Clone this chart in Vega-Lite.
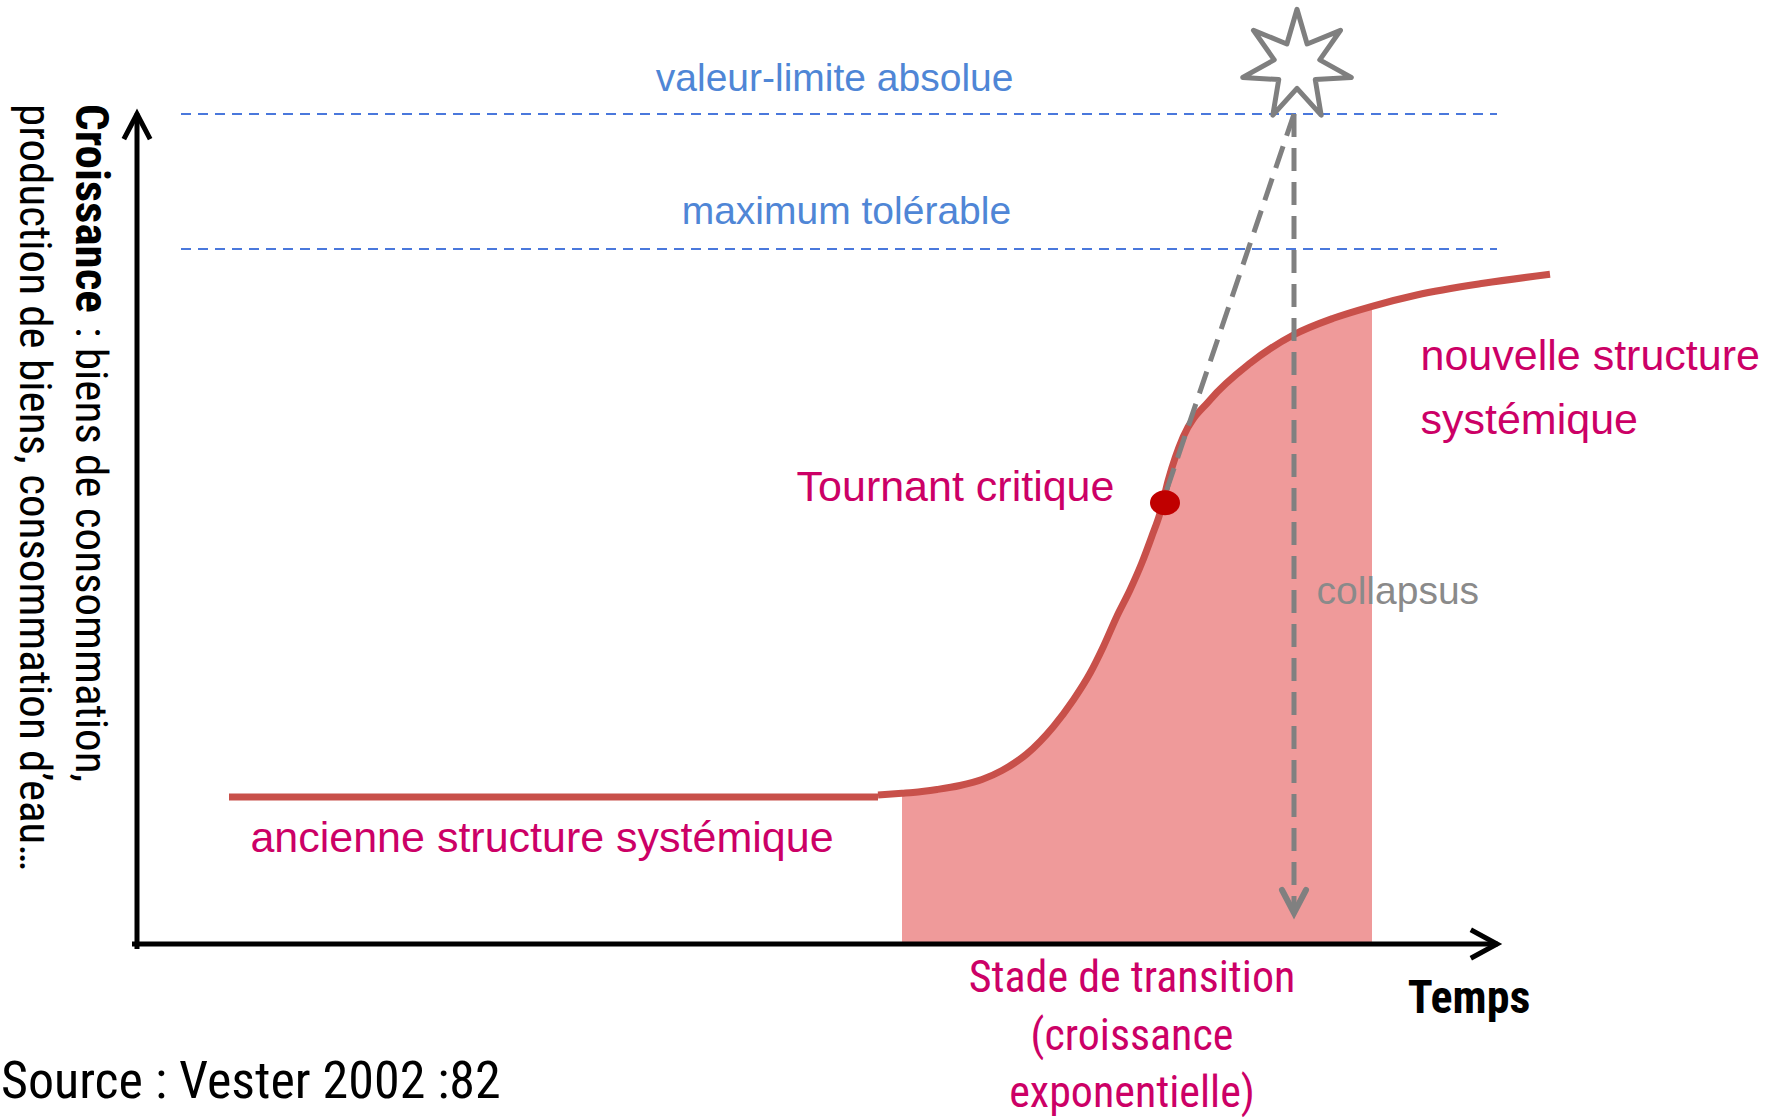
{
  "$schema": "https://vega.github.io/schema/vega-lite/v6.json",
  "width": 1772,
  "height": 1118,
  "autosize": {"type": "none"},
  "padding": 0,
  "background": "white",
  "config": {"view": {"stroke": null}},
  "datasets": {
    "curve": [
      {"id": "flat", "x": 9.2, "y": 14.7},
      {"id": "flat", "x": 74.1, "y": 14.7},
      {"id": "rise", "x": 74.1, "y": 14.9},
      {"id": "rise", "x": 76.5, "y": 15.07},
      {"id": "rise", "x": 77.6, "y": 15.15},
      {"id": "rise", "x": 80.0, "y": 15.45},
      {"id": "rise", "x": 82.3, "y": 15.85},
      {"id": "rise", "x": 84.5, "y": 16.45},
      {"id": "rise", "x": 86.5, "y": 17.35},
      {"id": "rise", "x": 88.97, "y": 19.0},
      {"id": "rise", "x": 91.63, "y": 21.73},
      {"id": "rise", "x": 93.63, "y": 24.4},
      {"id": "rise", "x": 95.3, "y": 27.07},
      {"id": "rise", "x": 96.63, "y": 29.73},
      {"id": "rise", "x": 97.97, "y": 32.73},
      {"id": "rise", "x": 99.3, "y": 35.4},
      {"id": "rise", "x": 100.47, "y": 38.07},
      {"id": "rise", "x": 101.47, "y": 40.73},
      {"id": "rise", "x": 102.3, "y": 43.07},
      {"id": "rise", "x": 103.13, "y": 46.4},
      {"id": "rise", "x": 104.63, "y": 50.73},
      {"id": "rise", "x": 107.3, "y": 54.4},
      {"id": "rise", "x": 111.3, "y": 58.07},
      {"id": "rise", "x": 115.63, "y": 60.9},
      {"id": "rise", "x": 119.63, "y": 62.57},
      {"id": "rise", "x": 123.5, "y": 63.77},
      {"id": "rise", "x": 127.97, "y": 64.9},
      {"id": "rise", "x": 134.63, "y": 66.07},
      {"id": "rise", "x": 141.3, "y": 66.97}
    ],
    "axes": [
      {"id": "yax", "o": 0, "x": 0, "y": -0.25},
      {"id": "yax", "o": 1, "x": 0, "y": 82.8},
      {"id": "yar", "o": 0, "x": -1.2, "y": 80.7},
      {"id": "yar", "o": 1, "x": 0, "y": 83.0},
      {"id": "yar", "o": 2, "x": 1.2, "y": 80.7},
      {"id": "xax", "o": 0, "x": -0.25, "y": 0},
      {"id": "xax", "o": 1, "x": 135.8, "y": 0},
      {"id": "xar", "o": 0, "x": 133.6, "y": 1.3},
      {"id": "xar", "o": 1, "x": 136.0, "y": 0},
      {"id": "xar", "o": 2, "x": 133.6, "y": -1.3}
    ],
    "limits": [
      {"id": "absolue", "o": 0, "x": 4.4, "y": 83.0},
      {"id": "absolue", "o": 1, "x": 136.0, "y": 83.0},
      {"id": "tolerable", "o": 0, "x": 4.4, "y": 69.5},
      {"id": "tolerable", "o": 1, "x": 136.0, "y": 69.5}
    ],
    "grayDash": [
      {"id": "vert", "o": 0, "x": 115.7, "y": 83.0},
      {"id": "vert", "o": 1, "x": 115.7, "y": 3.4},
      {"id": "diag", "o": 0, "x": 115.7, "y": 83.0},
      {"id": "diag", "o": 1, "x": 102.8, "y": 44.9}
    ],
    "grayHead": [
      {"id": "head", "o": 0, "x": 114.5, "y": 5.4},
      {"id": "head", "o": 1, "x": 115.7, "y": 3.1},
      {"id": "head", "o": 2, "x": 116.9, "y": 5.4}
    ]
  },
  "encoding": {
    "x": {"field": "x", "type": "quantitative", "scale": {"domain": [-13.7, 163.5], "nice": false, "zero": false}, "axis": null},
    "y": {"field": "y", "type": "quantitative", "scale": {"domain": [-17.4, 94.4], "nice": false, "zero": false}, "axis": null}
  },
  "layer": [
    {
      "data": {"name": "curve"},
      "transform": [{"filter": "datum.id == 'rise' && datum.x >= 76.5 && datum.x <= 123.5"}],
      "mark": {"type": "area", "interpolate": "monotone", "color": "#ef9a9a", "opacity": 1},
      "encoding": {"y2": {"datum": 0}}
    },
    {
      "data": {"name": "limits"},
      "mark": {"type": "line", "color": "#4a78dc", "strokeWidth": 2, "strokeDash": [10, 7]},
      "encoding": {"detail": {"field": "id"}, "order": {"field": "o"}}
    },
    {
      "data": {"name": "curve"},
      "mark": {"type": "line", "interpolate": "monotone", "color": "#c8504a", "strokeWidth": 7, "strokeCap": "butt"},
      "encoding": {"detail": {"field": "id"}}
    },
    {
      "data": {"name": "grayDash"},
      "mark": {"type": "line", "color": "#808080", "strokeWidth": 5, "strokeDash": [23, 11]},
      "encoding": {"detail": {"field": "id"}, "order": {"field": "o"}}
    },
    {
      "data": {"name": "grayHead"},
      "mark": {"type": "line", "color": "#808080", "strokeWidth": 6, "strokeJoin": "miter", "strokeCap": "round"},
      "encoding": {"detail": {"field": "id"}, "order": {"field": "o"}}
    },
    {
      "data": {"values": [{"x": 102.8, "y": 44.13}]},
      "mark": {"type": "point", "shape": "M-1,0A1,0.83 0 1,0 1,0A1,0.83 0 1,0 -1,0Z", "size": 900, "filled": true, "color": "#c00000", "opacity": 1}
    },
    {
      "data": {"values": [{"x": 116.0, "y": 87.9}]},
      "mark": {"type": "point", "shape": "M0,-1L0.182,-0.378L0.782,-0.623L0.409,-0.093L0.975,0.223L0.328,0.262L0.434,0.901L0,0.42L-0.434,0.901L-0.328,0.262L-0.975,0.223L-0.409,-0.093L-0.782,-0.623L-0.182,-0.378Z", "size": 12400, "filled": true, "fill": "white", "stroke": "#7f7f7f", "strokeWidth": 5, "strokeJoin": "round", "opacity": 1}
    },
    {
      "data": {"name": "axes"},
      "mark": {"type": "line", "color": "black", "strokeWidth": 5, "strokeJoin": "miter", "strokeCap": "square"},
      "encoding": {"detail": {"field": "id"}, "order": {"field": "o"}}
    },
    {
      "data": {"values": [
        {"x": 69.76, "y": 86.5, "text": "valeur-limite absolue"},
        {"x": 70.94, "y": 73.2, "text": "maximum tolérable"}
      ]},
      "mark": {"type": "text", "font": "Liberation Sans, Arial, sans-serif", "fontSize": 39, "color": "#4f86d6", "align": "center", "baseline": "middle"},
      "encoding": {"text": {"field": "text"}}
    },
    {
      "data": {"values": [
        {"x": 81.85, "y": 45.6, "text": "Tournant critique"},
        {"x": 40.5, "y": 10.55, "text": "ancienne structure systémique"}
      ]},
      "mark": {"type": "text", "font": "Liberation Sans, Arial, sans-serif", "fontSize": 43, "color": "#cc0066", "align": "center", "baseline": "middle"},
      "encoding": {"text": {"field": "text"}}
    },
    {
      "data": {"values": [
        {"x": 128.35, "y": 58.7, "text": "nouvelle structure"},
        {"x": 128.35, "y": 52.35, "text": "systémique"}
      ]},
      "mark": {"type": "text", "font": "Liberation Sans, Arial, sans-serif", "fontSize": 43, "color": "#cc0066", "align": "left", "baseline": "middle"},
      "encoding": {"text": {"field": "text"}}
    },
    {
      "data": {"values": [{"x": 117.95, "y": 35.2, "text": "collapsus"}]},
      "mark": {"type": "text", "font": "Liberation Sans, Arial, sans-serif", "fontSize": 39, "color": "#8a8a8a", "align": "left", "baseline": "middle"},
      "encoding": {"text": {"field": "text"}}
    },
    {
      "data": {"values": [
        {"x": 99.5, "y": -3.46, "text": "Stade de transition"},
        {"x": 99.5, "y": -9.34, "text": "(croissance"},
        {"x": 99.5, "y": -15.0, "text": "exponentielle)"}
      ]},
      "mark": {"type": "text", "font": "'Liberation Sans Narrow', 'Arial Narrow', 'Roboto Condensed', 'Noto Sans Condensed', 'Open Sans Condensed', 'DejaVu Sans Condensed', sans-serif", "fontSize": 44, "color": "#cc0066", "align": "center", "baseline": "middle"},
      "encoding": {"text": {"field": "text"}}
    },
    {
      "data": {"values": [{"x": 133.2, "y": -5.5, "text": "Temps"}]},
      "mark": {"type": "text", "font": "'Liberation Sans Narrow', 'Arial Narrow', 'Roboto Condensed', 'Noto Sans Condensed', 'Open Sans Condensed', 'DejaVu Sans Condensed', sans-serif", "fontSize": 46, "fontWeight": "bold", "color": "black", "align": "center", "baseline": "middle"},
      "encoding": {"text": {"field": "text"}}
    },
    {
      "data": {"values": [{"x": -13.6, "y": -13.75, "text": "Source : Vester 2002 :82"}]},
      "mark": {"type": "text", "font": "'Liberation Sans Narrow', 'Arial Narrow', 'Roboto Condensed', 'Noto Sans Condensed', 'Open Sans Condensed', 'DejaVu Sans Condensed', sans-serif", "fontSize": 52, "color": "black", "align": "left", "baseline": "middle"},
      "encoding": {"text": {"field": "text"}}
    },
    {
      "data": {"values": [{"x": -4.7, "y": 84.0, "text": "Croissance"}]},
      "mark": {"type": "text", "font": "'Liberation Sans Narrow', 'Arial Narrow', 'Roboto Condensed', 'Noto Sans Condensed', 'Open Sans Condensed', 'DejaVu Sans Condensed', sans-serif", "fontSize": 47, "fontWeight": "bold", "color": "black", "align": "left", "baseline": "middle", "angle": 90},
      "encoding": {"text": {"field": "text"}}
    },
    {
      "data": {"values": [
        {"x": -4.7, "y": 61.7, "text": ": biens de consommation,"},
        {"x": -10.3, "y": 84.0, "text": "production de biens, consommation d’eau…"}
      ]},
      "mark": {"type": "text", "font": "'Liberation Sans Narrow', 'Arial Narrow', 'Roboto Condensed', 'Noto Sans Condensed', 'Open Sans Condensed', 'DejaVu Sans Condensed', sans-serif", "fontSize": 45, "color": "black", "align": "left", "baseline": "middle", "angle": 90},
      "encoding": {"text": {"field": "text"}}
    }
  ]
}
